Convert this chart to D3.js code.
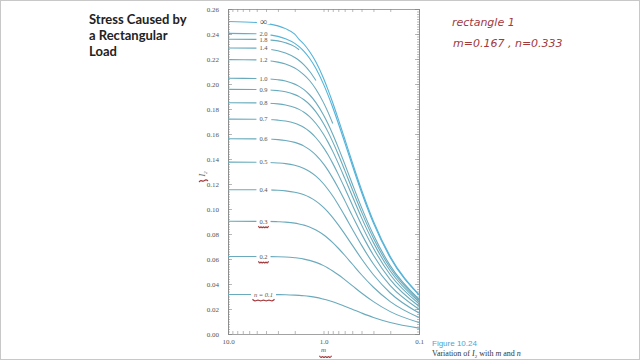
<!DOCTYPE html>
<html>
<head>
  <title>Stress Caused by a Rectangular Load</title>
  <script src="https://d3js.org/d3.v7.min.js"></script>
  <style>
    body { margin: 0; background: #fff; }
  </style>
</head>
<body>
  <svg width="640" height="360"></svg>

  <script>
    // m values along the x axis (log scale, read right to left)
    const mValues = [10, 5, 4, 3, 2.5, 2, 1.8, 1.6, 1.4, 1.2, 1.0, 0.9, 0.8, 0.7, 0.6, 0.5, 0.4, 0.3, 0.2, 0.1];

    // I2, same order as mValues (short curves stop early)
    const n01 = [0.0316, 0.0316, 0.0316, 0.0315, 0.0314, 0.0311, 0.0309, 0.0306, 0.0301, 0.0293, 0.0279, 0.0270, 0.0258, 0.0242, 0.0222, 0.0198, 0.0168, 0.0132, 0.0092, 0.0047];
    const n02 = [0.0620, 0.0620, 0.0619, 0.0618, 0.0616, 0.0610, 0.0606, 0.0599, 0.0589, 0.0573, 0.0547, 0.0528, 0.0504, 0.0474, 0.0435, 0.0387, 0.0328, 0.0259, 0.0179, 0.0092];
    const n03 = [0.0902, 0.0901, 0.0901, 0.0898, 0.0895, 0.0887, 0.0880, 0.0871, 0.0856, 0.0832, 0.0794, 0.0766, 0.0731, 0.0686, 0.0630, 0.0560, 0.0474, 0.0374, 0.0259, 0.0132];
    const n04 = [0.1154, 0.1154, 0.1153, 0.1150, 0.1145, 0.1134, 0.1126, 0.1114, 0.1094, 0.1063, 0.1013, 0.0977, 0.0931, 0.0873, 0.0801, 0.0711, 0.0602, 0.0474, 0.0328, 0.0168];
    const n05 = [0.1375, 0.1374, 0.1372, 0.1368, 0.1363, 0.1350, 0.1340, 0.1324, 0.1300, 0.1263, 0.1202, 0.1158, 0.1104, 0.1034, 0.0947, 0.0840, 0.0711, 0.0560, 0.0387, 0.0198];
    const n06 = [0.1562, 0.1561, 0.1560, 0.1555, 0.1548, 0.1533, 0.1521, 0.1503, 0.1475, 0.1431, 0.1361, 0.1311, 0.1247, 0.1168, 0.1069, 0.0947, 0.0801, 0.0630, 0.0435, 0.0222];
    const n07 = [0.1719, 0.1718, 0.1716, 0.1711, 0.1704, 0.1686, 0.1672, 0.1652, 0.1620, 0.1570, 0.1491, 0.1436, 0.1365, 0.1277, 0.1168, 0.1034, 0.0873, 0.0686, 0.0474, 0.0242];
    const n08 = [0.1850, 0.1849, 0.1847, 0.1841, 0.1832, 0.1812, 0.1797, 0.1774, 0.1739, 0.1684, 0.1598, 0.1537, 0.1461, 0.1365, 0.1247, 0.1104, 0.0931, 0.0731, 0.0504, 0.0258];
    const n09 = [0.1957, 0.1956, 0.1954, 0.1947, 0.1938, 0.1915, 0.1899, 0.1874, 0.1836, 0.1777, 0.1684, 0.1619, 0.1537, 0.1436, 0.1311, 0.1158, 0.0977, 0.0766, 0.0528, 0.0270];
    const n10 = [0.2046, 0.2044, 0.2042, 0.2034, 0.2024, 0.1999, 0.1981, 0.1955, 0.1914, 0.1851, 0.1752, 0.1684, 0.1598, 0.1491, 0.1361, 0.1202, 0.1013, 0.0794, 0.0547, 0.0279];
    const n12 = [0.2195, 0.2193, 0.2188, 0.2175, 0.2160, 0.2128, 0.2105, 0.2073, 0.2028, 0.1958, 0.1851, 0.1777, 0.1684];
    const n14 = [0.2288, 0.2287, 0.2282, 0.2266, 0.2248, 0.2212, 0.2188, 0.2153, 0.2102, 0.2028];
    const n18 = [0.2358, 0.2357, 0.2354, 0.2345, 0.2330, 0.2299, 0.2274];
    const n20 = [0.2405, 0.2402, 0.2397, 0.2381, 0.2362, 0.2325, 0.2299, 0.2261, 0.2206, 0.2124, 0.1999, 0.1915, 0.1812, 0.1686, 0.1533, 0.1350, 0.1134, 0.0887, 0.0610, 0.0311];
    const nInf = [0.2500, 0.2492, 0.2485, 0.2465, 0.2443, 0.2399, 0.2357, 0.2318, 0.2260, 0.2176, 0.2046, 0.1957, 0.1850, 0.1719, 0.1562, 0.1374, 0.1154, 0.0902, 0.0620, 0.0316];

    const curveLabels = ["n = 0.1", "0.2", "0.3", "0.4", "0.5", "0.6", "0.7", "0.8", "0.9", "1.0", "1.2", "1.4", "1.8", "2.0", "\u221e"];
    const curveValues = [n01, n02, n03, n04, n05, n06, n07, n08, n09, n10, n12, n14, n18, n20, nInf];

    const yTicks = [0, 0.02, 0.04, 0.06, 0.08, 0.10, 0.12, 0.14, 0.16, 0.18, 0.20, 0.22, 0.24, 0.26];
    const xTickLabels = [10, 1, 0.1];

    const svg = d3.select("svg");

    // slide frame
    svg.append("rect")
      .attr("x", 0.5).attr("y", 0.5)
      .attr("width", 639).attr("height", 359)
      .attr("fill", "none")
      .attr("stroke", "#c8c8c8");

    // slide title, spaced so the first line is about 96px wide
    const titleLines = ["Stress Caused by", "a Rectangular", "Load"].map((t, i) =>
      svg.append("text")
        .attr("x", 89).attr("y", 24 + i * 16)
        .attr("font-family", "Lato, sans-serif")
        .attr("font-size", 13)
        .attr("font-weight", 700)
        .attr("fill", "#222")
        .text(t));
    const w0 = titleLines[0].node().getComputedTextLength();
    const spacing = Math.max(0, (96 - w0) / 16);
    titleLines.forEach(t => t.attr("letter-spacing", spacing));

    // handwritten notes
    const red = "#a23a3c";
    svg.append("text")
      .attr("x", 452).attr("y", 26)
      .attr("font-family", "'DejaVu Sans', sans-serif")
      .attr("font-size", 11).attr("font-style", "italic")
      .attr("fill", red)
      .text("rectangle 1");
    svg.append("text")
      .attr("x", 453).attr("y", 47)
      .attr("font-family", "'DejaVu Sans', sans-serif")
      .attr("font-size", 11).attr("font-style", "italic")
      .attr("fill", red)
      .text("m=0.167 , n=0.333");

    // plot area
    const plotL = 228, plotR = 419, plotT = 9, plotB = 334;

    const x = d3.scaleLog()
      .domain([10, 0.1])
      .range([plotL, plotR]);

    const y = d3.scaleLinear()
      .domain([0, 0.26])
      .range([plotB, plotT]);

    const axisColor = "#8a8a8a";
    const serif = "'Liberation Serif', 'DejaVu Serif', serif";

    // minor / major y ticks on both sides, pointing inward
    const yMinor = d3.range(0, 0.2601, 0.002);
    svg.append("g").attr("transform", `translate(${plotL},0)`)
      .call(d3.axisRight(y).tickValues(yMinor).tickSize(2).tickFormat(""));
    svg.append("g").attr("transform", `translate(${plotR},0)`)
      .call(d3.axisLeft(y).tickValues(yMinor).tickSize(2).tickFormat(""));
    svg.append("g").attr("transform", `translate(${plotL},0)`)
      .call(d3.axisRight(y).tickValues(yTicks).tickSize(4).tickFormat(""));
    svg.append("g").attr("transform", `translate(${plotR},0)`)
      .call(d3.axisLeft(y).tickValues(yTicks).tickSize(4).tickFormat(""));

    // y tick labels
    svg.append("g").attr("transform", `translate(${plotL},0)`)
      .call(d3.axisLeft(y).tickValues(yTicks).tickSize(0).tickPadding(9).tickFormat(d3.format(".2f")))
      .call(g => g.select(".domain").remove())
      .selectAll("text")
      .attr("font-family", serif).attr("font-size", 7).attr("fill", "#555");

    // x ticks top and bottom (log minor ticks), pointing inward
    const xMinor = [];
    [0.1, 1].forEach(d => { for (let k = 1; k <= 9; k++) xMinor.push(d * k); });
    xMinor.push(10);
    svg.append("g").attr("transform", `translate(0,${plotB})`)
      .call(d3.axisTop(x).tickValues(xMinor).tickSize(3).tickFormat(""));
    svg.append("g").attr("transform", `translate(0,${plotT})`)
      .call(d3.axisBottom(x).tickValues(xMinor).tickSize(3).tickFormat(""));
    svg.append("g").attr("transform", `translate(0,${plotB})`)
      .call(d3.axisBottom(x).tickValues(xTickLabels).tickSize(0).tickPadding(5).tickFormat(d3.format(".1f")))
      .call(g => g.select(".domain").remove())
      .selectAll("text")
      .attr("font-family", serif).attr("font-size", 7).attr("fill", "#555");

    svg.selectAll(".domain").attr("stroke", axisColor).attr("stroke-width", 0.8);
    svg.selectAll(".tick line").attr("stroke", axisColor).attr("stroke-width", 0.6);

    // axis titles
    svg.append("text")
      .attr("x", x(1)).attr("y", 352)
      .attr("text-anchor", "middle")
      .attr("font-family", serif).attr("font-size", 7).attr("font-style", "italic")
      .attr("fill", "#555")
      .text("m");
    const yLab = svg.append("text")
      .attr("transform", "translate(205,174) rotate(-90)")
      .attr("text-anchor", "middle")
      .attr("font-family", serif).attr("font-size", 8).attr("font-style", "italic")
      .attr("fill", "#555");
    yLab.append("tspan").text("I");
    yLab.append("tspan").attr("font-size", 5).attr("dy", 2).text("2");

    // curves
    const line = d3.line()
      .x(d => x(d.m))
      .y(d => y(d.v))
      .curve(d3.curveMonotoneX);

    const labelM = 4.25;
    const curveG = svg.append("g");
    const labelG = svg.append("g");
    curveValues.forEach((vals, i) => {
      const pts = vals.map((v, j) => ({ m: mValues[j], v: v }));
      const blue = i >= 13;
      curveG.append("path")
        .datum(pts)
        .attr("fill", "none")
        .attr("stroke", blue ? "#55b3d8" : "#6aaabd")
        .attr("stroke-width", 1.1)
        .attr("d", line);

      // label sitting in a gap of the curve
      const ly = y(vals[0]);
      const isInf = i === curveLabels.length - 1;
      const bg = labelG.append("rect").attr("fill", "#fff");
      const lab = labelG.append("text")
        .attr("x", x(labelM)).attr("y", ly + (isInf ? 3 : 2.3))
        .attr("text-anchor", "middle")
        .attr("font-family", serif).attr("font-size", isInf ? 10 : 6.5)
        .attr("fill", "#555")
        .text(curveLabels[i]);
      if (i === 0) lab.attr("font-style", "italic");
      const bb = lab.node().getBBox();
      bg.attr("x", bb.x - 3).attr("y", ly - 2.5)
        .attr("width", bb.width + 6).attr("height", 5);
    });

    // red pen marks under some labels
    const pen = d3.line().curve(d3.curveBasis);
    const squiggle = (cx, cy, w) => {
      const pts = [];
      for (let k = 0; k <= 8; k++) pts.push([cx - w / 2 + (w * k) / 8, cy + (k % 2 ? 1.2 : -1.2)]);
      return pen(pts);
    };
    [[x(labelM), y(n03[0]) + 6, 10], [x(labelM), y(n02[0]) + 6, 10], [x(labelM), y(n01[0]) + 6, 22], [x(1) + 2, 357, 12]]
      .forEach(s => {
        svg.append("path")
          .attr("d", squiggle(s[0], s[1], s[2]))
          .attr("fill", "none").attr("stroke", red).attr("stroke-width", 1.2);
      });
    svg.append("path")
      .attr("d", pen([[199, 182], [201, 180], [203, 182], [206, 179], [208, 181]]))
      .attr("fill", "none").attr("stroke", red).attr("stroke-width", 1.2);

    // figure caption
    svg.append("text")
      .attr("x", 432).attr("y", 346)
      .attr("font-family", "'Liberation Sans', sans-serif").attr("font-size", 8)
      .attr("fill", "#4aa6d3")
      .text("Figure 10.24");
    const cap = svg.append("text")
      .attr("x", 432).attr("y", 356)
      .attr("font-family", serif).attr("font-size", 8)
      .attr("fill", "#333");
    cap.append("tspan").text("Variation of ");
    cap.append("tspan").attr("font-style", "italic").text("I");
    cap.append("tspan").attr("font-size", 5).attr("dy", 1.5).text("2");
    cap.append("tspan").attr("dy", -1.5).text(" with ");
    cap.append("tspan").attr("font-style", "italic").text("m");
    cap.append("tspan").text(" and ");
    cap.append("tspan").attr("font-style", "italic").text("n");
  </script>
</body>
</html>
